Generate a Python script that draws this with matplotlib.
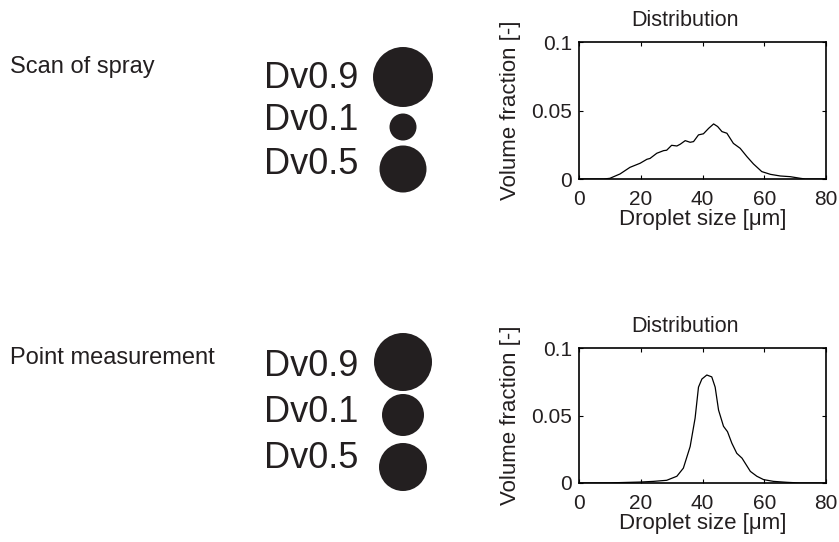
import matplotlib
matplotlib.use("Agg")
import matplotlib.pyplot as plt

plt.rcParams['font.family'] = ['Liberation Sans', 'DejaVu Sans']

# row titles
row_titles = ["Scan of spray", "Point measurement"]
dv_labels = ["Dv0.9", "Dv0.1", "Dv0.5"]
# circle radii in pixels (as drawn)
radii_scan = [30, 13.5, 23.5]
radii_point = [29, 21, 24]

# distribution curves (droplet size um, volume fraction)
size_scan = [0, 8, 10, 13.3, 16.5, 19.8, 22, 23, 25.2, 27.4, 28.4, 30, 31.7, 32.8,
             34.4, 36, 37.1, 38.7, 40.3, 42, 43.6, 44.9, 46.3, 47.9, 50, 52.2,
             54.4, 56.5, 59.2, 62, 65.2, 68.4, 71.7, 73.3, 80]
frac_scan = [0, 0, 0.0005, 0.0037, 0.0085, 0.0115, 0.0144, 0.015, 0.0188, 0.0207,
             0.021, 0.0246, 0.0241, 0.0254, 0.028, 0.0268, 0.0273, 0.0322, 0.033,
             0.037, 0.0402, 0.0383, 0.0346, 0.0334, 0.026, 0.0224, 0.0163, 0.011,
             0.0054, 0.0034, 0.0022, 0.0017, 0.0005, 0, 0]

size_point = [0, 10, 19.8, 24.1, 28.4, 31.7, 33.8, 36, 37.6, 38.7, 39.8, 41.4, 43,
              44.1, 45.2, 46.8, 48.1, 49.5, 51.1, 52.8, 55.5, 57.6, 59.8, 63, 67.4,
              71.7, 80]
frac_point = [0, 0.0001, 0.0007, 0.0012, 0.002, 0.005, 0.011, 0.027, 0.048, 0.071,
              0.077, 0.080, 0.0786, 0.071, 0.054, 0.042, 0.038, 0.0295, 0.022,
              0.0184, 0.0086, 0.005, 0.0025, 0.0012, 0.0005, 0, 0]

W, H = 839, 542
fig = plt.figure(figsize=(W / 100, H / 100), dpi=100)

# overlay axes in pixel units for the text and circles
ov = fig.add_axes([0, 0, 1, 1])
ov.set_xlim(0, W)
ov.set_ylim(H, 0)
ov.axis('off')

rows = [
    (row_titles[0], radii_scan, 67, [78, 121, 164], [77, 127, 169], size_scan, frac_scan, 42, 179),
    (row_titles[1], radii_point, 358, [366, 413, 458], [362, 415, 467], size_point, frac_point, 348, 483),
]

for title, radii, ty, text_y, circ_y, xs, ys, top, bot in rows:
    ov.text(10, ty, title, fontsize=17, va='center', ha='left', color='#231f20')
    for lab, r, yt, yc in zip(dv_labels, radii, text_y, circ_y):
        ov.text(358, yt, lab, fontsize=26, va='center', ha='right', color='#231f20')
        ov.add_patch(plt.Circle((403, yc), r, color='#231f20', ec='none'))

    ax = fig.add_axes([579 / W, 1 - bot / H, 247 / W, (bot - top) / H])
    ax.plot(xs, ys, color='black', lw=0.9)
    ax.set_xlim(0, 80)
    ax.set_ylim(0, 0.1)
    ax.set_xticks([0, 20, 40, 60, 80])
    ax.set_yticks([0, 0.05, 0.1])
    ax.set_yticklabels(['0', '0.05', '0.1'])
    ax.tick_params(direction='in', top=True, right=True, labelsize=15, length=3,
                   width=0.8, labelcolor='#231f20')
    ax.tick_params(axis='x', pad=8)
    ax.tick_params(axis='y', pad=5)
    for s in ax.spines.values():
        s.set_linewidth(1.2)
    ax.set_xlabel('Droplet size [\u03bcm]', fontsize=16, labelpad=0, color='#231f20')
    ax.set_ylabel('Volume fraction [-]', fontsize=16, labelpad=7, color='#231f20')
    ax.text(0.43, 1.08, 'Distribution', transform=ax.transAxes, fontsize=15.5,
            ha='center', va='bottom', color='#231f20')

fig.savefig('out.png', dpi=100)
